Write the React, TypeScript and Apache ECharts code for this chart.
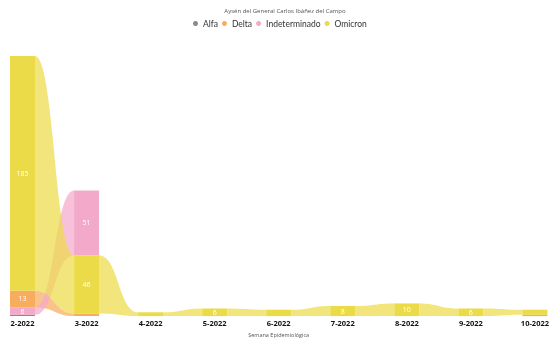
import React, { useEffect, useRef } from "react";
import * as echarts from "echarts";

const categories = ["2-2022", "3-2022", "4-2022", "5-2022", "6-2022", "7-2022", "8-2022", "9-2022", "10-2022"];
const seriesNames = ["Alfa", "Delta", "Indeterminado", "Omicron"];
const alfa = [1, 0, 0, 0, 0, 0, 0, 0, 0];
const delta = [13, 2, 0, 0, 0, 0, 0, 0, 1];
const indeterminado = [6, 51, 0, 0, 0, 0, 0, 0, 0];
const omicron = [185, 46, 3, 6, 5, 8, 10, 6, 4];
const colors = ["#8a8a8a", "#F7AC5E", "#F2A9CA", "#EBDB48"];

const values = [alfa, delta, indeterminado, omicron];

export default function App() {
  const ref = useRef<HTMLDivElement>(null);
  useEffect(() => {
    if (!ref.current) return;
    const chart = echarts.init(ref.current, null, { renderer: "svg" });
    const n = categories.length;
    const bottoms: number[][] = values.map(() => new Array(n).fill(0));
    const totals: number[] = [];
    for (let c = 0; c < n; c++) {
      const order = values.map((v, s) => s).filter((s) => values[s][c] > 0).sort((a, b) => values[a][c] - values[b][c]);
      let acc = 0;
      for (const s of order) {
        bottoms[s][c] = acc;
        acc += values[s][c];
      }
      totals.push(acc);
    }
    const maxTotal = Math.max(...totals);
    const font = "'Segoe UI', 'Open Sans', sans-serif";

    const series = seriesNames.map((name, s) => ({
      type: "custom",
      name,
      itemStyle: { color: colors[s] },
      data: categories.map((_, i) => [i, values[s][i]]),
      encode: { x: 0, y: 1 },
      renderItem: (params: any, api: any) => {
        const c = api.value(0);
        const v = values[s][c];
        if (!v) return null;
        const w = api.size([1, 0])[0] * 0.39;
        const b = bottoms[s][c];
        const p0 = api.coord([c, b]);
        const p1 = api.coord([c, b + v]);
        const children: any[] = [
          {
            type: "rect",
            z2: 100,
            shape: { x: p0[0] - w / 2, y: p1[1], width: w, height: p0[1] - p1[1] },
            style: { fill: colors[s] },
          },
        ];
        if (v >= 6) {
          children.push({
            type: "text",
            z2: 110,
            x: p0[0],
            y: (p0[1] + p1[1]) / 2,
            style: {
              text: String(v),
              fill: "#ffffff",
              fontSize: 7,
              fontFamily: font,
              align: "center",
              verticalAlign: "middle",
            },
          });
        }
        if (c + 1 < n && values[s][c + 1] > 0) {
          const nb = bottoms[s][c + 1];
          const nv = values[s][c + 1];
          const q0 = api.coord([c + 1, nb]);
          const q1 = api.coord([c + 1, nb + nv]);
          const x0 = p0[0] + w / 2;
          const x1 = q0[0] - w / 2;
          const mx = (x0 + x1) / 2;
          const d =
            `M${x0},${p1[1]} C${mx},${p1[1]} ${mx},${q1[1]} ${x1},${q1[1]} ` +
            `L${x1},${q0[1]} C${mx},${q0[1]} ${mx},${p0[1]} ${x0},${p0[1]} Z`;
          children.push({
            type: "path",
            z2: 1,
            shape: { pathData: d },
            style: { fill: colors[s], opacity: 0.72 },
          });
        }
        return { type: "group", children };
      },
    }));

    chart.setOption({
      animation: false,
      title: {
        text: "Aysén del General Carlos Ibáñez del Campo",
        left: 280,
        textAlign: "center",
        top: 3,
        textStyle: { fontSize: 6, fontWeight: "normal", color: "#555", fontFamily: font },
      },
      legend: {
        data: seriesNames,
        left: 188,
        top: 14,
        icon: "circle",
        itemWidth: 5,
        itemHeight: 5,
        itemGap: 4,
        selectedMode: false,
        textStyle: { fontSize: 8.5, color: "#333", fontFamily: "Lato, 'Open Sans', sans-serif" },
      },
      grid: { left: 22.5, right: 16.5, top: 56, bottom: 23 },
      xAxis: {
        type: "category",
        data: categories,
        boundaryGap: false,
        axisLine: { show: false },
        axisTick: { show: false },
        axisLabel: { fontSize: 7.5, fontWeight: "bold", color: "#111", margin: 3, fontFamily: font, interval: 0 },
        name: "Semana Epidemiológica",
        nameLocation: "middle",
        nameGap: 15,
        nameTextStyle: { fontSize: 5.5, color: "#555", fontFamily: font },
      },
      yAxis: { type: "value", min: 0, max: maxTotal, show: false, splitLine: { show: false } },
      series,
    });
    return () => chart.dispose();
  }, []);
  return <div ref={ref} style={{ position: "fixed", left: 0, top: 0, width: 552, height: 343 }} />;
}
